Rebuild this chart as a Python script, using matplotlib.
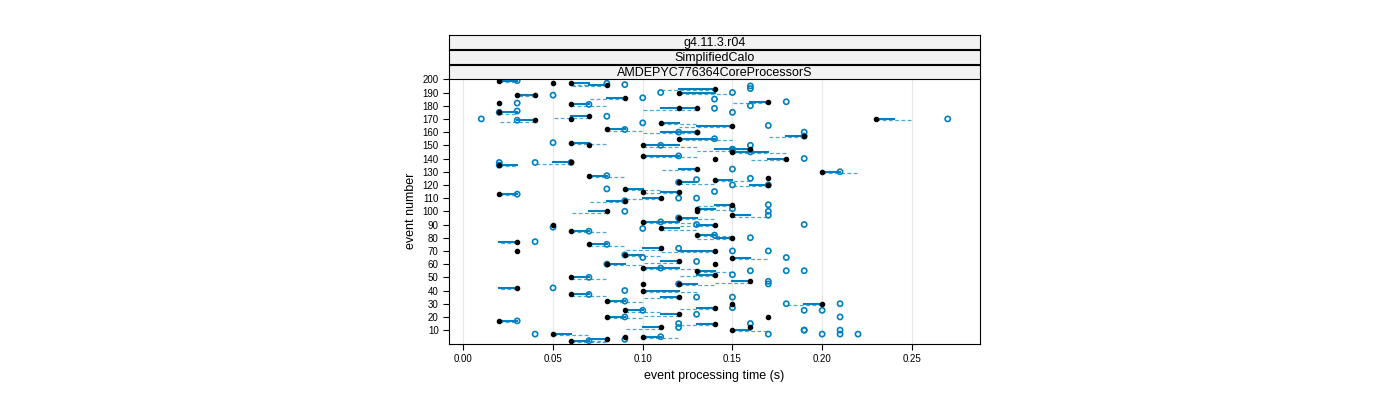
import matplotlib
matplotlib.use("Agg")
import matplotlib.pyplot as plt
plt.rcParams["font.family"] = "Liberation Sans"

# event number, median (black dot), solid segment end, dashed segment end, open circle
events = [199,197,196,193,190,188,186,183,181,178,175,172,170,169,167,165,162,160,157,155,152,150,147,145,142,140,137,135,132,130,127,124,122,120,117,115,113,110,108,105,102,100,97,95,92,90,87,85,82,80,77,75,72,70,67,65,62,60,57,55,52,50,47,45,42,40,37,35,32,30,27,25,22,20,17,15,12,10,7,5,3,2]
med    = [0.02,0.06,0.08,0.14,0.12,0.04,0.09,0.17,0.06,0.13,0.02,0.07,0.23,0.04,0.11,0.15,0.08,0.13,0.19,0.12,0.06,0.10,0.16,0.15,0.10,0.18,0.06,0.02,0.13,0.20,0.07,0.14,0.12,0.17,0.09,0.12,0.02,0.11,0.09,0.15,0.13,0.08,0.15,0.12,0.10,0.14,0.11,0.06,0.13,0.15,0.03,0.07,0.11,0.14,0.09,0.15,0.12,0.08,0.10,0.13,0.14,0.06,0.16,0.12,0.03,0.10,0.06,0.12,0.08,0.20,0.14,0.09,0.12,0.08,0.02,0.14,0.11,0.15,0.05,0.10,0.08,0.06]
seg    = [0.03,0.07,0.07,0.12,0.14,0.03,0.08,0.16,0.07,0.11,0.03,0.06,0.24,0.03,0.12,0.13,0.09,0.11,0.18,0.14,0.07,0.12,0.14,0.17,0.12,0.17,0.05,0.03,0.12,0.21,0.08,0.15,0.13,0.16,0.10,0.11,0.03,0.10,0.08,0.14,0.14,0.07,0.16,0.13,0.12,0.13,0.12,0.07,0.14,0.14,0.02,0.08,0.10,0.12,0.10,0.16,0.11,0.09,0.12,0.14,0.13,0.07,0.15,0.13,0.02,0.12,0.07,0.11,0.09,0.19,0.13,0.10,0.11,0.09,0.03,0.13,0.10,0.16,0.06,0.11,0.07,0.07]
dash   = [0.03,0.08,0.06,0.11,0.15,0.03,0.07,0.15,0.08,0.10,0.03,0.05,0.25,0.02,0.13,0.12,0.10,0.10,0.17,0.15,0.08,0.13,0.13,0.18,0.13,0.16,0.04,0.03,0.11,0.22,0.09,0.16,0.14,0.15,0.11,0.10,0.03,0.09,0.07,0.13,0.15,0.06,0.17,0.14,0.13,0.12,0.13,0.08,0.15,0.13,0.02,0.09,0.09,0.11,0.11,0.17,0.10,0.10,0.13,0.15,0.12,0.08,0.14,0.14,0.02,0.13,0.08,0.10,0.10,0.18,0.12,0.11,0.10,0.10,0.03,0.12,0.09,0.17,0.07,0.12,0.06,0.08]
circ   = [0.03,0.08,0.09,0.16,0.11,0.05,0.10,0.18,0.07,0.14,0.02,0.08,0.27,0.03,0.10,0.17,0.09,0.12,0.19,0.14,0.05,0.11,0.15,0.16,0.12,0.19,0.04,0.02,0.15,0.21,0.08,0.13,0.12,0.17,0.08,0.14,0.03,0.12,0.09,0.17,0.15,0.09,0.17,0.12,0.11,0.13,0.10,0.07,0.14,0.16,0.04,0.08,0.12,0.15,0.09,0.18,0.13,0.08,0.11,0.16,0.15,0.07,0.17,0.12,0.05,0.09,0.07,0.13,0.09,0.21,0.15,0.10,0.13,0.09,0.03,0.16,0.12,0.19,0.04,0.11,0.09,0.07]
# extra scattered points (outliers)
ext_ev = [10,10,7,7,7,7,20,25,25,30,45,55,55,70,90,100,125,160,170,175,180,185,190,195,137,137,120,150,147,110,88,65,35,15,182,176]
ext_x  = [0.19,0.21,0.17,0.20,0.21,0.22,0.21,0.19,0.20,0.18,0.17,0.18,0.19,0.17,0.19,0.17,0.16,0.19,0.01,0.15,0.16,0.14,0.15,0.16,0.02,0.06,0.15,0.16,0.15,0.13,0.05,0.10,0.15,0.12,0.03,0.03]
ext_dot_ev = [197,188,178,170,160,140,125,100,90,70,60,45,30,20,12,5,182,150,115]
ext_dot_x  = [0.05,0.03,0.12,0.06,0.13,0.14,0.17,0.13,0.05,0.03,0.14,0.10,0.15,0.17,0.16,0.09,0.02,0.07,0.10]

xticks = [0.00, 0.05, 0.10, 0.15, 0.20, 0.25]
yticks = list(range(10, 201, 10))
strips = ["g4.11.3.r04", "SimplifiedCalo", "AMDEPYC776364CoreProcessorS"]

blue = "#0080c0"
fig = plt.figure(figsize=(14, 4), dpi=100)
ax = fig.add_axes([449/1400, 1-344/400, 531/1400, (344-78)/400])
for e, m, s, d in zip(events, med, seg, dash):
    ax.plot([m, s], [e, e], color=blue, lw=1.5, zorder=2)
    ax.plot([m, d], [e - 1, e - 1], color=blue, lw=0.9, ls=(0, (3, 2)), alpha=0.7, zorder=2)
ax.scatter(circ, events, s=14, facecolors="none", edgecolors=blue, linewidths=1.2, zorder=3)
ax.scatter(ext_x, ext_ev, s=14, facecolors="none", edgecolors=blue, linewidths=1.2, zorder=3)
ax.scatter(med, events, s=9, color="black", zorder=4)
ax.scatter(ext_dot_x, ext_dot_ev, s=9, color="black", zorder=4)
ax.set_xlim(-0.008, 0.288)
ax.set_ylim(-0.5, 201)
ax.set_xticks(xticks)
ax.set_xticklabels([f"{v:.2f}" for v in xticks], fontsize=7)
ax.set_yticks(yticks)
ax.set_yticklabels([str(v) for v in yticks], fontsize=7)
ax.tick_params(top=True, right=False, direction="out", length=4)
ax.tick_params(axis="x", labeltop=False)
for v in xticks:
    ax.axvline(v, color="#e8e8e8", lw=0.8, zorder=0)
ax.set_xlabel("event processing time (s)", fontsize=9)
ax.set_ylabel("event number", fontsize=9)
for i, t in enumerate(strips):
    sa = fig.add_axes([449/1400, 1 - (35 + 15 * (i + 1) - 1) / 400, 531/1400, 14/400])
    sa.set_facecolor("#f2f2f2")
    sa.set_xticks([]); sa.set_yticks([])
    sa.text(0.5, 0.45, t, ha="center", va="center", fontsize=9, transform=sa.transAxes)
fig.savefig("out.png")
